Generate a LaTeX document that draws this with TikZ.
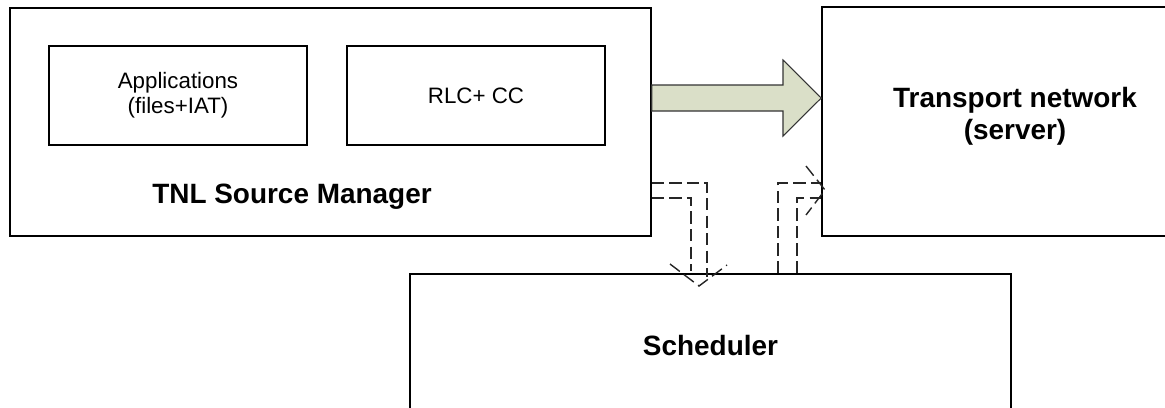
\documentclass[tikz,border=0pt]{standalone}
\usepackage{fontspec}
\setmainfont{Liberation Sans}
\usetikzlibrary{positioning}
\definecolor{arrowfill}{RGB}{218,223,200}
\begin{document}
\begin{tikzpicture}[x=0.02cm, y=-0.02cm,
  box/.style={draw, line width=0.9pt, inner sep=0pt},
  inbox/.style={box, minimum width=5.16cm, minimum height=1.98cm, align=center,
    font=\fontsize{12.7}{14}\selectfont},
  title/.style={font=\fontsize{15.9}{18.2}\selectfont\bfseries, align=center},
  flow/.style={draw=black!85, line width=0.8pt, dash pattern=on 7pt off 3pt},
  bigarrow/.style={draw=black!80, line width=0.6pt, fill=arrowfill}]
  \clip (0,0) rectangle (1165,407);
  % boxes
  \node[box, minimum width=12.82cm, minimum height=4.56cm] (tnl) at (330.5,122) {};
  \node[inbox] (apps) at (178,95.5) {Applications\\(files+IAT)};
  \node[inbox, right=0.77cm of apps] (rlc) {RLC+ CC};
  \node[title] (tnllabel) at (292,197) {TNL Source Manager};
  \node[box, minimum width=7.72cm, minimum height=4.58cm] (transport) at (1015,121.5) {};
  \node[title] (translabel) at (1015,116) {Transport network\\(server)};
  \node[box, title, minimum width=12.02cm, minimum height=2.88cm] (sched) at (710.5,346) {Scheduler};
  % data path
  \filldraw[bigarrow] (tnl.east |- 0,85) -- (783,85) -- (783,60) -- (transport.west |- 0,98)
    -- (783,136) -- (783,111) -- (tnl.east |- 0,111) -- cycle;
  % control paths
  \coordinate (tipa) at (699,286);
  \draw[flow] (tnl.east |- 0,183) -| (707,277);
  \draw[flow] (tnl.east |- 0,198) -| (691,271);
  \draw[flow] (670,264) -- (tipa) -- (727,265);
  \coordinate (tipb) at (825,190);
  \draw[flow] (sched.north -| 778,0) |- (transport.west |- 0,183);
  \draw[flow] (sched.north -| 797,0) |- (transport.west |- 0,198);
  \draw[flow] (806,166) -- (tipb) -- (806,215);
\end{tikzpicture}
\end{document}
